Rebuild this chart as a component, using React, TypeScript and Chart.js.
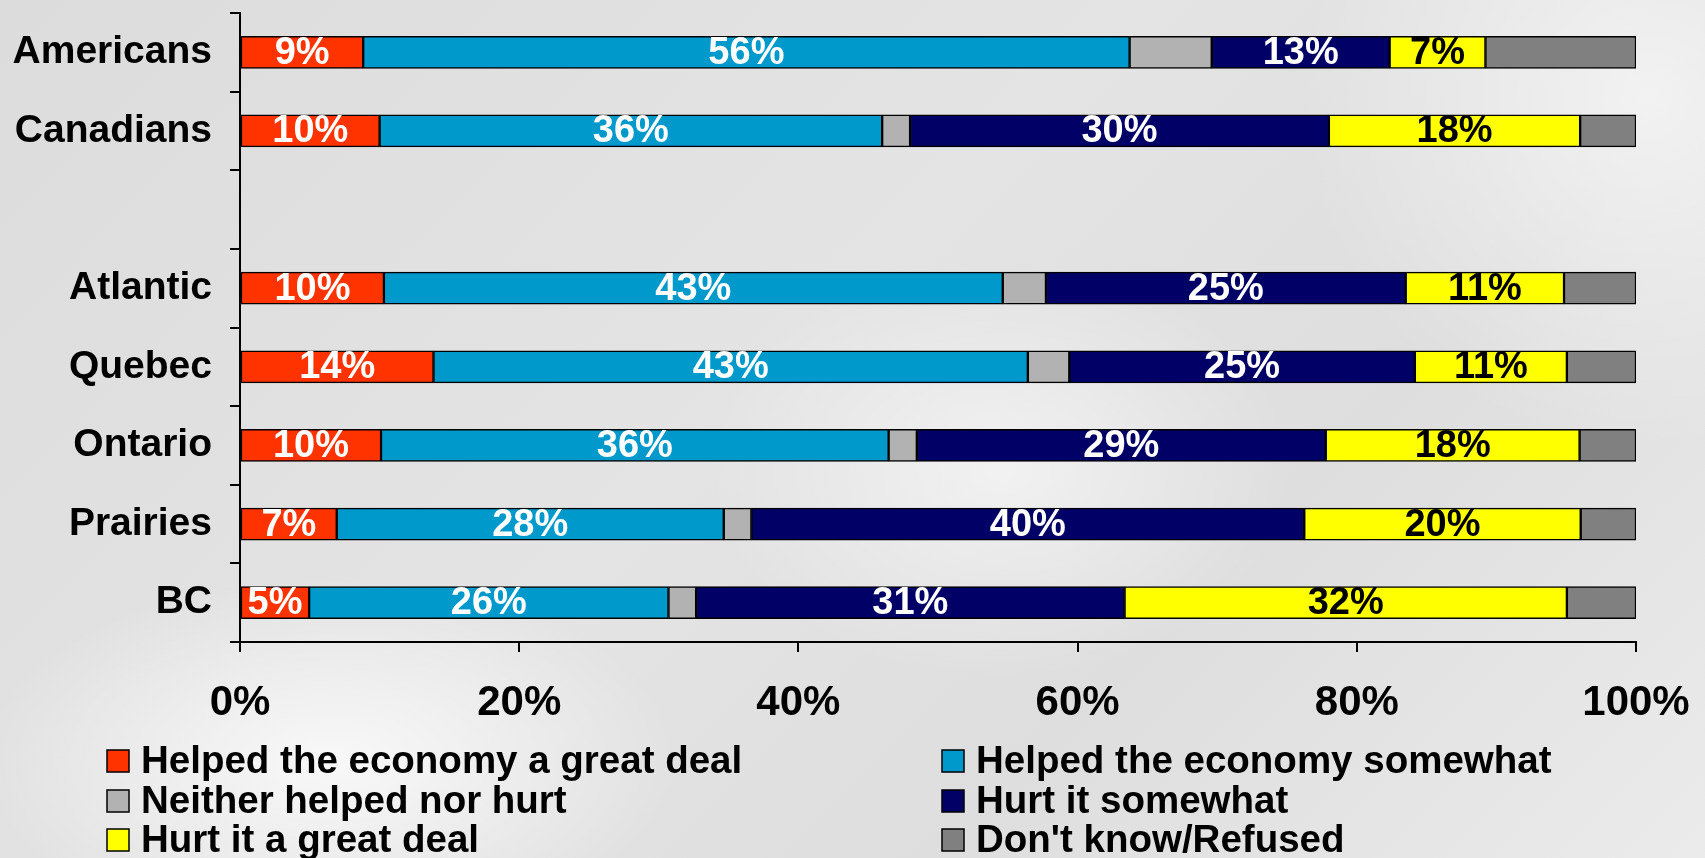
import React, { useEffect, useRef } from 'react';
import { Chart, registerables } from 'chart.js';

Chart.register(...registerables);

const categories = ['Americans', 'Canadians', '', 'Atlantic', 'Quebec', 'Ontario', 'Prairies', 'BC'];
const seriesNames = [
  'Helped the economy a great deal',
  'Helped the economy somewhat',
  'Neither helped nor hurt',
  'Hurt it somewhat',
  'Hurt it a great deal',
  "Don't know/Refused",
];
const helpedGreatDeal = [9, 10, null, 10, 14, 10, 7, 5];
const helpedSomewhat = [56, 36, null, 43, 43, 36, 28, 26];
const neitherHelpedNorHurt = [6, 2, null, 3, 3, 2, 2, 2];
const hurtSomewhat = [13, 30, null, 25, 25, 29, 40, 31];
const hurtGreatDeal = [7, 18, null, 11, 11, 18, 20, 32];
const dontKnow = [11, 4, null, 5, 5, 4, 4, 5];
const xTickValues = [0, 20, 40, 60, 80, 100];

const rawSeries = [helpedGreatDeal, helpedSomewhat, neitherHelpedNorHurt, hurtSomewhat, hurtGreatDeal, dontKnow];
const colors = ['#FF3300', '#0099CC', '#B2B2B2', '#000066', '#FFFF00', '#808080'];
const labelColors = ['#FFFFFF', '#FFFFFF', null, '#FFFFFF', '#000000', null];

const FONT = "'Liberation Sans', Arial, Helvetica, sans-serif";

export default function App() {
  const ref = useRef<HTMLCanvasElement | null>(null);

  useEffect(() => {
    const canvas = ref.current;
    if (!canvas) return;
    document.body.style.margin = '0';

    const totals = categories.map((_, i) =>
      rawSeries.reduce((s, arr) => s + (arr[i] == null ? 0 : (arr[i] as number)), 0)
    );
    const datasets = rawSeries.map((arr, di) => ({
      label: seriesNames[di],
      data: arr.map((v, i) => (v == null || totals[i] === 0 ? null : (v / totals[i]) * 100)),
      backgroundColor: colors[di],
      borderColor: '#000000',
      borderWidth: 1.5,
      borderSkipped: false,
      barThickness: 32,
    }));

    const dataLabels = {
      id: 'dataLabels',
      afterDatasetsDraw(chart: any) {
        const ctx = chart.ctx;
        ctx.save();
        ctx.font = `bold 38px ${FONT}`;
        ctx.textAlign = 'center';
        ctx.textBaseline = 'middle';
        chart.data.datasets.forEach((_: any, di: number) => {
          const lc = labelColors[di];
          if (!lc) return;
          const meta = chart.getDatasetMeta(di);
          meta.data.forEach((el: any, i: number) => {
            const raw = rawSeries[di][i];
            if (raw == null) return;
            const p = el.getProps(['x', 'y', 'base'], true);
            ctx.fillStyle = lc;
            ctx.fillText(raw + '%', (p.x + p.base) / 2, p.y + 1);
          });
        });
        ctx.restore();
      },
    };

    const legendPlugin = {
      id: 'customLegend',
      afterDraw(chart: any) {
        const ctx = chart.ctx;
        ctx.save();
        ctx.font = `bold 38.5px ${FONT}`;
        ctx.textBaseline = 'middle';
        ctx.textAlign = 'left';
        const colX = [107, 942];
        const rowY = [761, 801, 840];
        seriesNames.forEach((name, i) => {
          const c = i % 2;
          const r = Math.floor(i / 2);
          const bx = colX[c];
          const by = rowY[r];
          ctx.fillStyle = colors[i];
          ctx.fillRect(bx, by - 11, 22, 22);
          ctx.strokeStyle = '#000';
          ctx.lineWidth = 1.5;
          ctx.strokeRect(bx, by - 11, 22, 22);
          ctx.fillStyle = '#000';
          ctx.fillText(name, bx + 34, by + 1);
        });
        ctx.restore();
      },
    };

    const chart = new Chart(canvas, {
      type: 'bar',
      data: { labels: categories, datasets },
      options: {
        indexAxis: 'y',
        animation: false,
        responsive: true,
        maintainAspectRatio: false,
        layout: { padding: { top: 13, right: 69, bottom: 136, left: 0 } },
        plugins: { legend: { display: false }, tooltip: { enabled: false } },
        scales: {
          x: {
            stacked: true,
            min: 0,
            max: 100,
            afterBuildTicks: (scale: any) => {
              scale.ticks = xTickValues.map((v) => ({ value: v }));
            },
            ticks: {
              callback: (v: any) => v + '%',
              font: { family: FONT, size: 42, weight: 'bold' },
              color: '#000',
              padding: 26,
              maxRotation: 0,
              autoSkip: false,
            },
            grid: { drawOnChartArea: false, drawTicks: true, tickLength: 10, color: '#000', lineWidth: 2 },
            border: { display: true, color: '#000', width: 2 },
            afterFit: (scale: any) => {
              scale.height = 80;
              scale.paddingLeft = 0;
              scale.paddingRight = 0;
            },
          },
          y: {
            stacked: true,
            ticks: {
              font: { family: FONT, size: 39, weight: 'bold' },
              color: '#000',
              padding: 18,
              autoSkip: false,
            },
            grid: { offset: true, drawOnChartArea: false, drawTicks: true, tickLength: 10, color: '#000', lineWidth: 2 },
            border: { display: true, color: '#000', width: 2 },
            afterFit: (scale: any) => {
              scale.width = 240;
              scale.paddingTop = 0;
              scale.paddingBottom = 0;
            },
          },
        },
      } as any,
      plugins: [dataLabels, legendPlugin],
    });

    return () => chart.destroy();
  }, []);

  return (
    <div
      style={{
        position: 'absolute',
        left: 0,
        top: 0,
        width: '1705px',
        height: '858px',
        background:
          'radial-gradient(ellipse 500px 260px at 330px 760px, rgba(255,255,255,0.75), rgba(255,255,255,0) 70%),' +
          'radial-gradient(ellipse 420px 300px at 1000px 470px, rgba(255,255,255,0.55), rgba(255,255,255,0) 70%),' +
          'radial-gradient(ellipse 500px 500px at 1650px 100px, rgba(255,255,255,0.6), rgba(255,255,255,0) 70%),' +
          'linear-gradient(135deg, #dcdcdc 0%, #e4e4e4 45%, #dedede 70%, #ebebeb 100%)',
      }}
    >
      <canvas ref={ref} />
    </div>
  );
}
